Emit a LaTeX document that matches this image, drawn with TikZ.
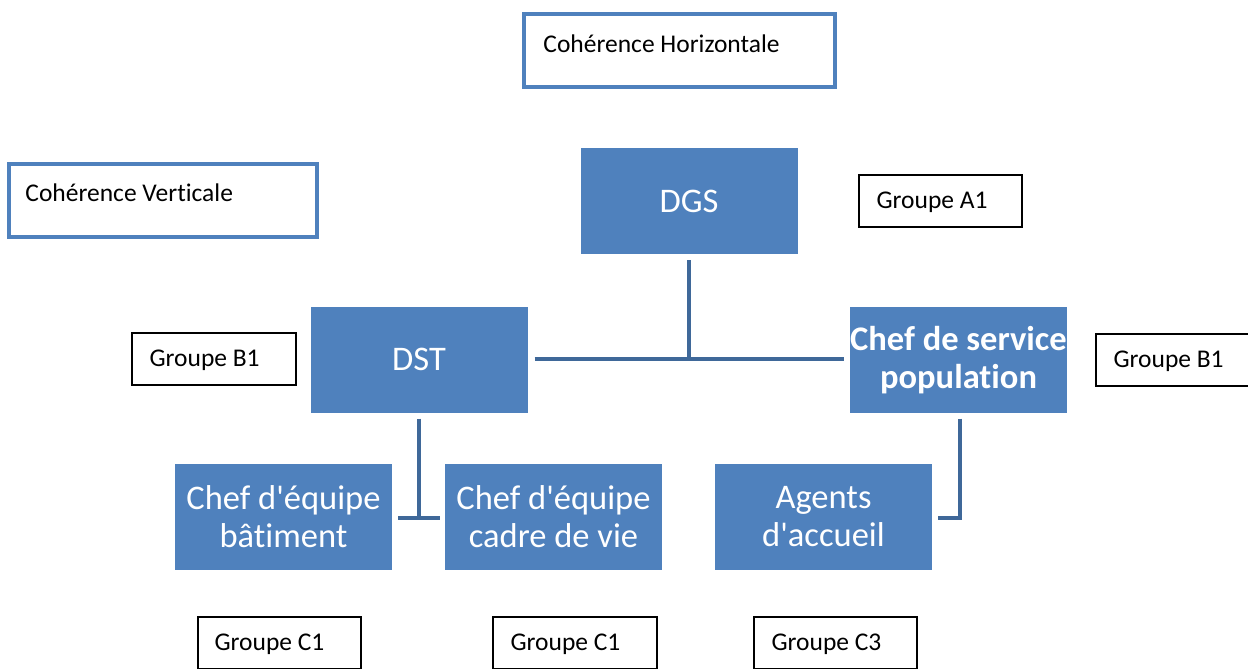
\documentclass[tikz,border=0pt]{standalone}
\usepackage{fontspec}
\setmainfont{Carlito}[Ligatures={TeXOff,NoCommon}]
\usetikzlibrary{calc}
\definecolor{boxblue}{HTML}{4F81BD}
\definecolor{linkblue}{HTML}{3F6899}
\tikzset{
  filledbox/.style={rectangle, fill=boxblue, draw=none, minimum width=217pt, minimum height=106pt, inner sep=0pt, text=white, align=center, font=\fontsize{34.5}{38}\selectfont},
  cobox/.style={rectangle, draw=boxblue, line width=3.5pt, inner sep=0pt},
  grpbox/.style={rectangle, draw=black, line width=1.2pt, minimum width=164pt, minimum height=52pt, inner sep=0pt},
  smalltext/.style={anchor=west, inner sep=0pt, font=\fontsize{25.5}{30}\selectfont},
  link/.style={draw=linkblue, line width=4pt}
}
\begin{document}
\begin{tikzpicture}[x=1pt,y=-1pt]
\useasboundingbox (0,0) rectangle (1248,669);
\clip (0,0) rectangle (1248,669);
% coherence boxes
\node[cobox, minimum width=311pt, minimum height=73pt] (ch) at (679.5,50.5) {};
\node[smalltext] (chT) at ($(ch.west)+(21,-7)$) {Cohérence Horizontale};
\node[cobox, minimum width=308pt, minimum height=73pt] (cv) at (163,200.5) {};
\node[smalltext] (cvT) at ($(cv.west)+(18,-8)$) {Cohérence Verticale};
% filled boxes
\node[filledbox] (dgs) at (689,201) {DGS};
\node[filledbox] (dst) at (419,359.5) {DST};
\node[filledbox, font=\fontsize{34.5}{38}\selectfont\bfseries, text depth=4pt] (chef) at (958.5,359.5) {Chef de service\\population};
\node[filledbox] (bat) at (283.5,517) {Chef d'équipe\\bâtiment};
\node[filledbox] (cadre) at (553.5,517) {Chef d'équipe\\cadre de vie};
\node[filledbox] (agents) at (823.5,517) {Agents\\d'accueil};
% groupe boxes
\node[grpbox, minimum width=163pt] (ga1) at (940.5,201) {};
\node[smalltext] (ga1T) at ($(ga1.west)+(18,1)$) {Groupe A1};
\node[grpbox] (gb1l) at (214,359) {};
\node[smalltext] (gb1lT) at ($(gb1l.west)+(18,1)$) {Groupe B1};
\node[grpbox] (gb1r) at (1178,360) {};
\node[smalltext] (gb1rT) at ($(gb1r.west)+(18,1)$) {Groupe B1};
\node[grpbox, minimum width=163pt] (gc1a) at (279.5,643) {};
\node[smalltext] (gc1aT) at ($(gc1a.west)+(17,1)$) {Groupe C1};
\node[grpbox] (gc1b) at (575,643) {};
\node[smalltext] (gc1bT) at ($(gc1b.west)+(18,1)$) {Groupe C1};
\node[grpbox, minimum width=163pt] (gc3) at (835.5,643) {};
\node[smalltext] (gc3T) at ($(gc3.west)+(18,1)$) {Groupe C3};
% connectors
\coordinate (hl) at ($(dst.east)+(7,-1)$);
\coordinate (hr) at ($(chef.west)+(-6,-1)$);
\draw[link] (hl) -- (hr);
\draw[link] ($(dgs.south)+(0,6)$) -- (dgs.south |- hl);
\draw[link] ($(dst.south)+(0,6)$) -- ($(dst.south |- bat.east)+(0,1)$);
\draw[link] ($(bat.east)+(6,1)$) -- ($(cadre.west)+(-5,1)$);
\draw[link] ($(chef.south)+(1.5,6)$) -- ($(chef.south |- agents.east)+(1.5,1)$) -- ($(agents.east)+(6,1)$);
\end{tikzpicture}
\end{document}
